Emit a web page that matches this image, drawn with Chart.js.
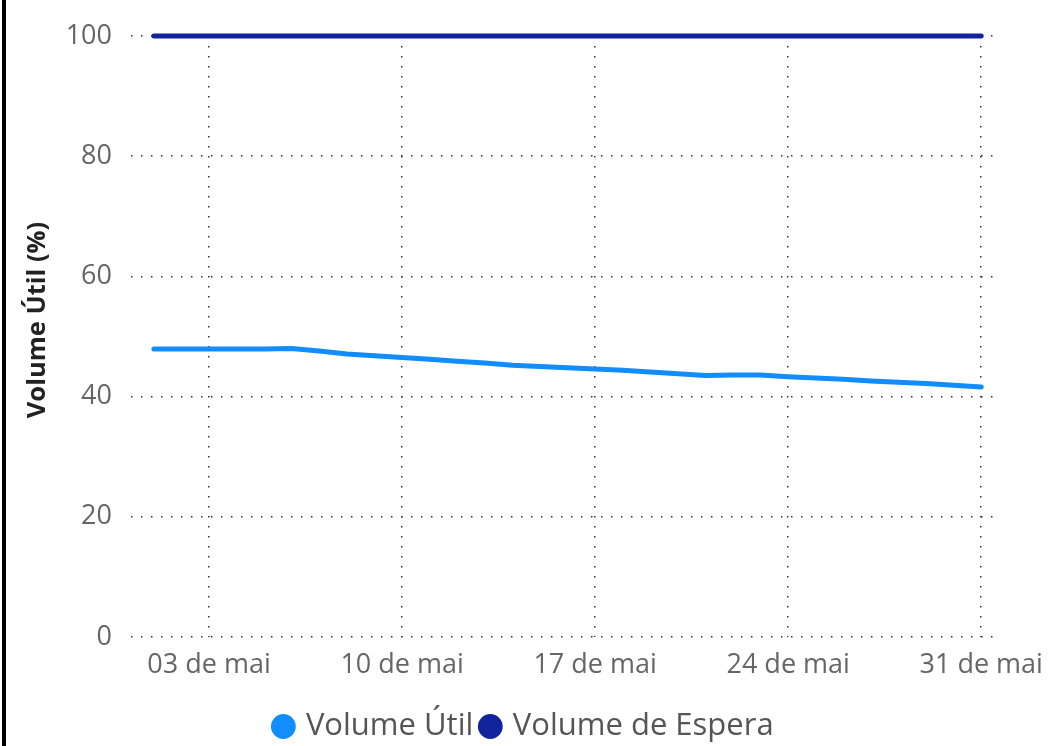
<!DOCTYPE html>
<html>
<head>
<meta charset="utf-8">
<script src="https://cdn.jsdelivr.net/npm/chart.js@4"></script>
<style>
  html, body { margin: 0; padding: 0; background: #fff; }
  #wrap { position: relative; width: 1050px; height: 746px; }
  #edge { position: absolute; left: 2px; top: 0; width: 4px; height: 746px; background: #000; }
</style>
</head>
<body>
<div id="wrap">
  <canvas id="volChart" width="1050" height="746"></canvas>
  <div id="edge"></div>
</div>
<script>
const days = [1, 2, 3, 4, 5, 6, 7, 8, 9, 10, 11, 12, 13, 14, 15, 16, 17, 18, 19, 20, 21, 22, 23, 24, 25, 26, 27, 28, 29, 30, 31];
const volumeUtil = [47.9, 47.9, 47.9, 47.9, 47.9, 48.0, 47.6, 47.1, 46.8, 46.5, 46.2, 45.9, 45.6, 45.2, 45.0, 44.8, 44.6, 44.4, 44.1, 43.8, 43.5, 43.6, 43.6, 43.3, 43.1, 42.9, 42.6, 42.4, 42.2, 41.9, 41.6];
const volumeEspera = [100, 100, 100, 100, 100, 100, 100, 100, 100, 100, 100, 100, 100, 100, 100, 100, 100, 100, 100, 100, 100, 100, 100, 100, 100, 100, 100, 100, 100, 100, 100];
const tickDays = [3, 10, 17, 24, 31];
const tickLabels = ['03 de mai', '10 de mai', '17 de mai', '24 de mai', '31 de mai'];
const yTicks = [0, 20, 40, 60, 80, 100];
const yTitle = 'Volume Útil (%)';

const fontFamily = '"Segoe UI", "Open Sans", "Noto Sans", sans-serif';
const gridStyle = { color: '#333', lineWidth: 1.5, drawTicks: false };

// y title sits a bit above the plot centre in the original, so draw it by hand
const yTitlePlugin = {
  id: 'yTitle',
  afterDraw(chart) {
    const c = chart.ctx;
    c.save();
    c.translate(38, 320);
    c.rotate(-Math.PI / 2);
    c.font = `bold 25.5px ${fontFamily}`;
    c.fillStyle = '#222';
    c.textAlign = 'center';
    c.textBaseline = 'middle';
    c.fillText(yTitle, 0, 0);
    c.restore();
  }
};

const ctx = document.getElementById('volChart');
new Chart(ctx, {
  type: 'line',
  data: {
    datasets: [
      {
        label: 'Volume Útil',
        data: days.map((d, i) => ({ x: d, y: volumeUtil[i] })),
        borderColor: '#118DFF',
        backgroundColor: '#118DFF',
        borderWidth: 5,
        pointRadius: 0,
        tension: 0,
        borderCapStyle: 'round',
        clip: false
      },
      {
        label: 'Volume de Espera',
        data: days.map((d, i) => ({ x: d, y: volumeEspera[i] })),
        borderColor: '#12239E',
        backgroundColor: '#12239E',
        borderWidth: 5,
        pointRadius: 0,
        tension: 0,
        borderCapStyle: 'round',
        clip: false
      }
    ]
  },
  plugins: [yTitlePlugin],
  options: {
    responsive: false,
    animation: false,
    layout: { padding: { top: 36, right: 0, left: 0, bottom: -6 } },
    plugins: {
      tooltip: { enabled: false },
      legend: {
        position: 'bottom',
        labels: {
          usePointStyle: true,
          pointStyle: 'circle',
          boxWidth: 14,
          boxHeight: 14,
          padding: 10,
          color: '#555',
          font: { family: fontFamily, size: 31, lineHeight: 1 }
        }
      }
    },
    scales: {
      x: {
        type: 'linear',
        min: 0.17,
        max: 31.5,
        grid: gridStyle,
        border: { display: false, dash: [1.5, 8.5] },
        afterBuildTicks: (scale) => { scale.ticks = tickDays.map(v => ({ value: v })); },
        afterFit: (scale) => {
          scale.height = 64;
          scale.paddingLeft = 0;
          scale.paddingRight = 55;
        },
        ticks: {
          padding: 12,
          maxRotation: 0,
          autoSkip: false,
          color: '#666',
          font: { family: fontFamily, size: 27 },
          callback: (v) => tickLabels[tickDays.indexOf(v)]
        }
      },
      y: {
        min: 0,
        max: 100,
        grid: gridStyle,
        border: { display: false, dash: [1.5, 8.5] },
        afterBuildTicks: (scale) => { scale.ticks = yTicks.map(v => ({ value: v })); },
        afterFit: (scale) => { scale.width = 131; },
        ticks: {
          padding: 19,
          color: '#666',
          font: { family: fontFamily, size: 27 }
        }
      }
    }
  }
});
</script>
</body>
</html>
